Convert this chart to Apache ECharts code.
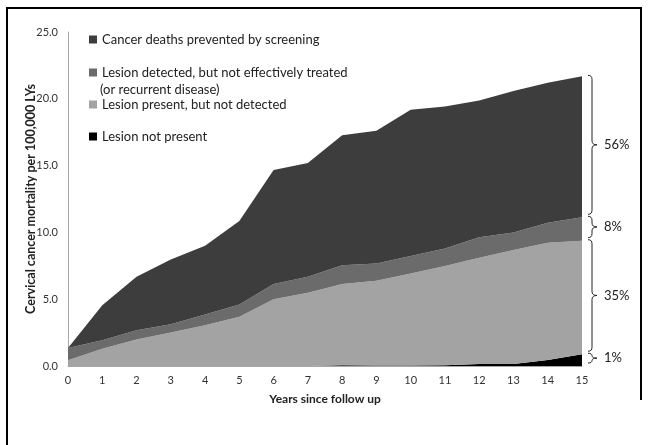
<!DOCTYPE html>
<html>
<head>
<meta charset="utf-8">
<script src="https://cdn.jsdelivr.net/npm/echarts@6/dist/echarts.min.js"></script>
<style>
  html, body { margin: 0; padding: 0; background: #fff; }
  #chart { width: 648px; height: 445px; }
</style>
</head>
<body>
<div id="chart"></div>
<script>
// years since follow up
const years = ['0', '1', '2', '3', '4', '5', '6', '7', '8', '9', '10', '11', '12', '13', '14', '15']

// stacked layers, bottom to top (per 100,000 LYs)
const notPresent = [0, 0, 0, 0, 0, 0, 0, 0, 0.05, 0.03, 0.03, 0.05, 0.15, 0.15, 0.45, 0.88]
const notDetected = [0.43, 1.3, 1.98, 2.5, 3.05, 3.68, 5.0, 5.48, 6.08, 6.35, 6.9, 7.43, 7.95, 8.53, 8.78, 8.5]
const notTreated = [0.92, 0.63, 0.7, 0.63, 0.8, 0.92, 1.13, 1.2, 1.42, 1.3, 1.3, 1.32, 1.53, 1.32, 1.5, 1.75]
const prevented = [0, 2.62, 4.0, 4.85, 5.15, 6.25, 8.55, 8.52, 9.73, 9.92, 10.95, 10.63, 10.25, 10.58, 10.47, 10.55]

// brace labels, bottom to top
const shares = ['1%', '35%', '8%', '56%']

const names = [
  'Lesion not present',
  'Lesion present, but not detected',
  'Lesion detected, but not effectively treated',
  'Cancer deaths prevented by screening'
]
const colors = ['#000000', '#a3a3a3', '#6b6b6b', '#3d3d3d']
const layers = [notPresent, notDetected, notTreated, prevented]

const font = 'Lato'
const chart = echarts.init(document.getElementById('chart'))

const legendStyle = {
  icon: 'rect',
  itemWidth: 8,
  itemHeight: 8,
  itemGap: 0,
  padding: 0,
  left: 89,
  selectedMode: false,
  textStyle: { fontFamily: font, fontSize: 13, color: '#222' }
}

const option = {
  animation: false,
  grid: { left: 68, right: 66, top: 32, bottom: 79 },
  legend: [
    { ...legendStyle, top: 33, data: [names[3]] },
    { ...legendStyle, top: 66, data: [names[2]] },
    { ...legendStyle, top: 98, data: [names[1]] },
    { ...legendStyle, top: 130, data: [names[0]] }
  ],
  xAxis: {
    type: 'category',
    boundaryGap: false,
    data: years,
    name: 'Years since follow up',
    nameLocation: 'middle',
    nameGap: 27,
    nameTextStyle: { fontFamily: font, fontSize: 12, fontWeight: 'bold', color: '#222' },
    axisLine: { show: true, lineStyle: { color: '#a6a6a6' } },
    axisTick: { show: false },
    axisLabel: { fontFamily: font, fontSize: 11, color: '#333', margin: 9 },
    splitLine: { show: false }
  },
  yAxis: {
    type: 'value',
    min: 0,
    max: 25,
    interval: 5,
    name: 'Cervical cancer mortality per 100,000 LYs',
    nameLocation: 'middle',
    nameGap: 31,
    nameMoveOverlap: false,
    nameTextStyle: { fontFamily: font, fontSize: 12.5, fontWeight: 'bold', color: '#222' },
    axisLine: { show: true, lineStyle: { color: '#a6a6a6' } },
    axisTick: { show: false },
    axisLabel: { fontFamily: font, fontSize: 11, color: '#333', margin: 10, formatter: v => v.toFixed(1) },
    splitLine: { show: false }
  },
  series: layers.map((d, i) => ({
    name: names[i],
    type: 'line',
    stack: 'total',
    data: d,
    symbol: 'none',
    lineStyle: { width: 0 },
    itemStyle: { color: colors[i] },
    areaStyle: { color: colors[i], opacity: 1 }
  }))
}
chart.setOption(option)

// braces on the right, placed from the stacked values at the last year
const last = years.length - 1
const xEnd = chart.convertToPixel({ xAxisIndex: 0 }, years[last])
let cum = 0
const bounds = [0]
layers.forEach(d => { cum += d[last]; bounds.push(cum) })

// quadratic curve sampled into points
function quad(p0, p1, p2) {
  const pts = []
  for (let t = 0; t <= 1.001; t += 0.25) {
    const a = (1 - t) * (1 - t), b = 2 * (1 - t) * t, c = t * t
    pts.push([a * p0[0] + b * p1[0] + c * p2[0], a * p0[1] + b * p1[1] + c * p2[1]])
  }
  return pts
}

function bracePoints(x, y1, y2) {
  const ym = (y1 + y2) / 2
  const r = Math.min(4, (y2 - y1) / 4)
  return [
    ...quad([x - 4, y1], [x, y1], [x, y1 + r]),
    ...quad([x, ym - r], [x, ym], [x + 5, ym]),
    ...quad([x + 5, ym], [x, ym], [x, ym + r]),
    ...quad([x, y2 - r], [x, y2], [x - 4, y2])
  ]
}

const bx = xEnd + 10
const graphics = []
for (let i = 0; i < shares.length; i++) {
  const yTop = chart.convertToPixel({ yAxisIndex: 0 }, bounds[i + 1]) - 1
  const yBot = chart.convertToPixel({ yAxisIndex: 0 }, bounds[i]) - 3
  graphics.push({
    type: 'polyline',
    shape: { points: bracePoints(bx, yTop, yBot) },
    style: { fill: null, stroke: '#222', lineWidth: 1 }
  })
  graphics.push({
    type: 'text',
    x: bx + 12,
    y: (yTop + yBot) / 2,
    style: { text: shares[i], font: `13px ${font}`, fill: '#222', verticalAlign: 'middle' }
  })
}

// second line of the two-line legend entry
graphics.push({
  type: 'text',
  x: 100,
  y: 89.5,
  style: { text: '(or recurrent disease)', font: `13px ${font}`, fill: '#222', verticalAlign: 'middle' }
})

// outer frame of the figure
graphics.push({
  type: 'polyline',
  shape: { points: [[7, 450], [7, 8], [641, 8], [641, 400]] },
  style: { fill: null, stroke: '#000', lineWidth: 2 }
})

chart.setOption({ graphic: graphics })
</script>
</body>
</html>
